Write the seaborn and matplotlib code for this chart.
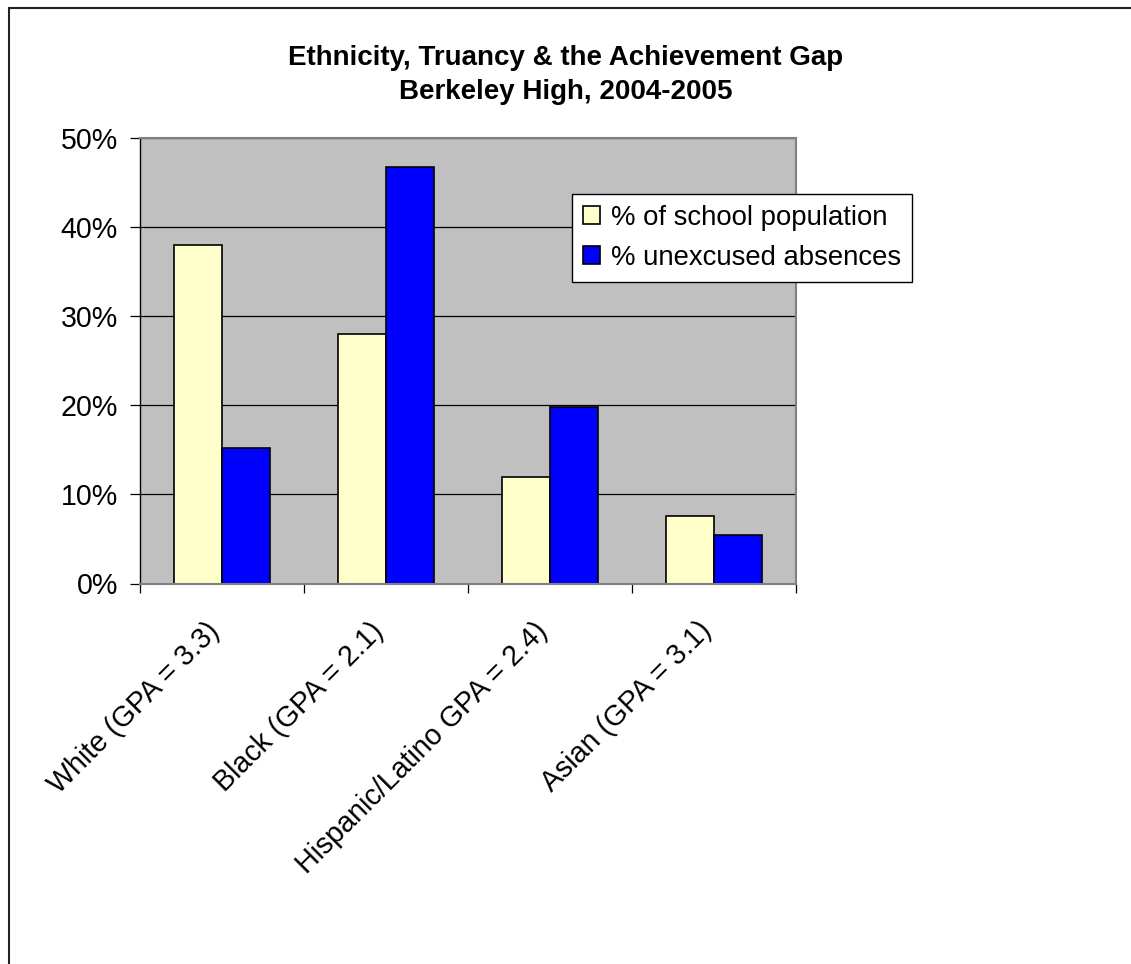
import numpy as np
import pandas as pd
import matplotlib
matplotlib.use("Agg")
import matplotlib.pyplot as plt
import matplotlib.transforms as mtransforms
import seaborn as sns
from matplotlib.lines import Line2D
from matplotlib.patches import Patch

# ---- data ----
categories = ["White (GPA = 3.3)", "Black (GPA = 2.1)",
              "Hispanic/Latino GPA = 2.4)", "Asian (GPA = 3.1)"]
series_names = ["% of school population", "% unexcused absences"]
pct_population = [38.0, 28.0, 12.0, 7.6]
pct_absences = [15.2, 46.8, 19.8, 5.4]
y_ticks = [0, 10, 20, 30, 40, 50]
y_tick_labels = ["0%", "10%", "20%", "30%", "40%", "50%"]
title_lines = ["Ethnicity, Truancy & the Achievement Gap", "Berkeley High, 2004-2005"]
colors = ["#FFFFCC", "#0000FF"]

df = pd.DataFrame({
    "category": categories * 2,
    "series": [series_names[0]] * len(categories) + [series_names[1]] * len(categories),
    "value": pct_population + pct_absences,
})

sns.set_theme(style="white")
plt.rcParams["font.family"] = ["Liberation Sans", "DejaVu Sans"]
plt.rcParams["text.color"] = "black"

W, H = 1131, 964
FS_TICK = 20.6
FS_TITLE = 20.0
FS_LEG = 19.8
fig = plt.figure(figsize=(W / 100, H / 100), dpi=100)
fig.patch.set_facecolor("white")
ax = fig.add_axes([140 / W, 1 - 583.5 / H, (796 - 140) / W, (583.5 - 138) / H])

sns.barplot(data=df, x="category", y="value", hue="series", order=categories,
            hue_order=series_names, palette=colors, width=0.58, saturation=1,
            edgecolor="black", linewidth=1.2, errorbar=None, legend=False, ax=ax)

ax.set_facecolor("#C0C0C0")
ax.set_xlim(-0.5, len(categories) - 0.5)
ax.set_ylim(0, 50)
ax.set_xlabel("")
ax.set_ylabel("")
ax.set_axisbelow(True)
ax.yaxis.grid(True, color="black", linewidth=0.9)
ax.xaxis.grid(False)

for side in ["top", "right", "bottom"]:
    ax.spines[side].set_color("#808080")
    ax.spines[side].set_linewidth(1.5)
ax.spines["left"].set_color("black")
ax.spines["left"].set_linewidth(1.0)

ax.set_yticks(y_ticks)
ax.set_yticklabels(y_tick_labels)
ax.tick_params(axis="y", left=True, direction="out", length=7, width=0.9,
               color="black", pad=9, labelsize=FS_TICK, labelcolor="black")

# boundary ticks (major) and centered labels (minor)
ax.set_xticks(np.arange(len(categories) + 1) - 0.5)
ax.set_xticklabels([])
ax.set_xticks(np.arange(len(categories)), minor=True)
ax.set_xticklabels(categories, minor=True, rotation=45, ha="right",
                   rotation_mode="anchor", va="center")
ax.tick_params(axis="x", which="major", bottom=True, direction="out", length=6.5,
               width=0.9, color="black")
ax.tick_params(axis="x", which="minor", bottom=True, length=0, pad=31,
               labelsize=FS_TICK, labelcolor="black")
offset = mtransforms.ScaledTranslation(-7 / 100, 0, fig.dpi_scale_trans)
for lbl in ax.get_xticklabels(minor=True):
    lbl.set_transform(lbl.get_transform() + offset)

handles = [Patch(facecolor=c, edgecolor="black", linewidth=1.2) for c in colors]
leg = fig.legend(handles, series_names, loc="upper left",
                 bbox_to_anchor=(572 / W, 1 - 194 / H), bbox_transform=fig.transFigure,
                 fontsize=FS_LEG, frameon=True, fancybox=False, shadow=False,
                 edgecolor="black", framealpha=1, borderpad=0.4, borderaxespad=0,
                 handlelength=0.62, handleheight=0.62, handletextpad=0.4,
                 labelspacing=0.5)
leg.get_frame().set_linewidth(1.0)
for t in leg.get_texts():
    t.set_color("black")

fig.text(0.5, 1 - 58 / H, title_lines[0], ha="center", va="center",
         fontsize=FS_TITLE, fontweight="bold", color="black")
fig.text(0.5, 1 - 92 / H, title_lines[1], ha="center", va="center",
         fontsize=FS_TITLE, fontweight="bold", color="black")

# outer chart frame (top and left edges visible)
fig.add_artist(Line2D([8.5 / W, 1.0], [1 - 7.5 / H] * 2, transform=fig.transFigure,
                      color="#222222", linewidth=1.5))
fig.add_artist(Line2D([8.5 / W] * 2, [0.0, 1 - 7.5 / H], transform=fig.transFigure,
                      color="#222222", linewidth=1.5))

fig.savefig("out.png", dpi=100)
